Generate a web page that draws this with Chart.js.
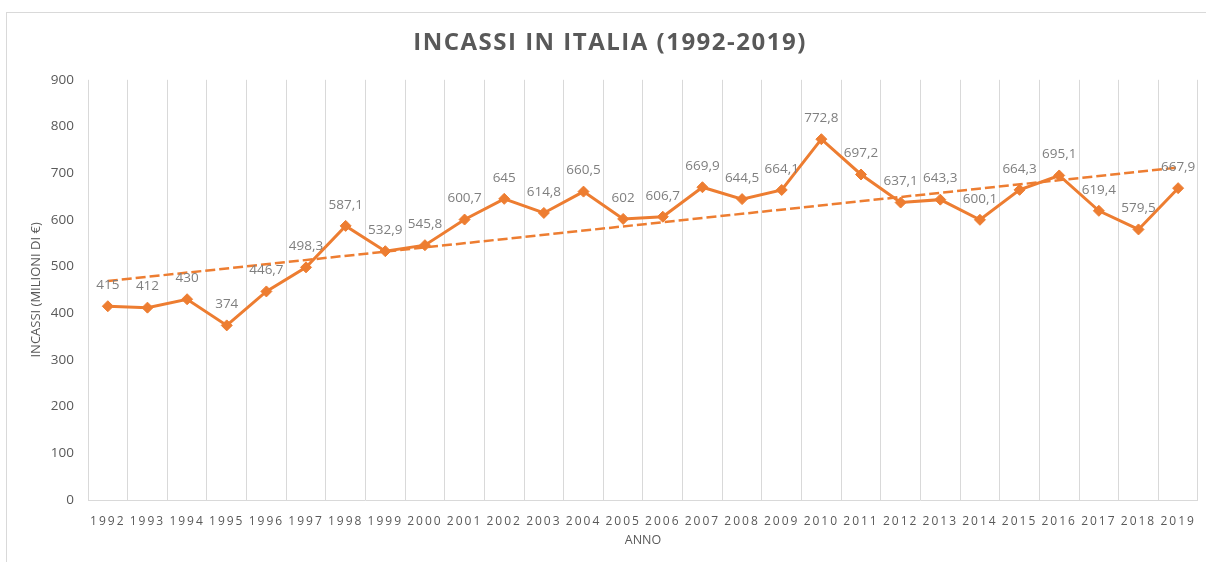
<!DOCTYPE html>
<html lang="it">
<head>
<meta charset="utf-8">
<title>Incassi in Italia (1992-2019)</title>
<script src="https://cdn.jsdelivr.net/npm/chart.js@4.4.1/dist/chart.umd.min.js"></script>
<style>
    html, body { margin: 0; padding: 0; background: #fff; }
    #chart { display: block; }
</style>
</head>
<body>
<canvas id="chart" width="1206" height="562"></canvas>
<script>
// Box office takings in Italy, millions of euro
const years = ['1992', '1993', '1994', '1995', '1996', '1997', '1998', '1999', '2000', '2001',
    '2002', '2003', '2004', '2005', '2006', '2007', '2008', '2009', '2010', '2011',
    '2012', '2013', '2014', '2015', '2016', '2017', '2018', '2019'];
const incassi = [415, 412, 430, 374, 446.7, 498.3, 587.1, 532.9, 545.8, 600.7,
    645, 614.8, 660.5, 602, 606.7, 669.9, 644.5, 664.1, 772.8, 697.2,
    637.1, 643.3, 600.1, 664.3, 695.1, 619.4, 579.5, 667.9];
// Linear trend, first and last year
const trendYears = ['1992', '2019'];
const trendValues = [469, 712];

const ORANGE = '#ED7D31';
const TEXT = '#595959';
const LABEL = '#7f7f7f';
const GRID = '#d9d9d9';
const FONT = "'Open Sans', sans-serif";

const fmt = v => String(v).replace('.', ',');

// wrap a draw method so its text gets some tracking
function withSpacing(obj, method, spacing) {
    if (!obj || obj['_spaced_' + method]) return;
    const orig = obj[method];
    obj[method] = function (...args) {
        const c = this.ctx;
        c.save();
        c.letterSpacing = spacing;
        orig.apply(this, args);
        c.restore();
    };
    obj['_spaced_' + method] = true;
}

const framePlugin = {
    id: 'frame',
    beforeDraw(chart) {
        const { ctx } = chart;
        ctx.save();
        ctx.strokeStyle = GRID;
        ctx.lineWidth = 1;
        ctx.strokeRect(6.5, 12.5, 1400, 700);
        ctx.restore();
        withSpacing(chart.scales.x, 'drawLabels', '2px');
        withSpacing(chart.titleBlock, 'draw', '1.5px');
    }
};

const valueLabels = {
    id: 'valueLabels',
    afterDatasetsDraw(chart) {
        const { ctx } = chart;
        const meta = chart.getDatasetMeta(0);
        ctx.save();
        ctx.font = `13.5px ${FONT}`;
        ctx.fillStyle = LABEL;
        ctx.textAlign = 'center';
        ctx.textBaseline = 'middle';
        meta.data.forEach((pt, i) => {
            ctx.fillText(fmt(incassi[i]), pt.x, pt.y - 21);
        });
        ctx.restore();
    }
};

new Chart(document.getElementById('chart'), {
    type: 'line',
    data: {
        labels: years,
        datasets: [{
            data: incassi,
            borderColor: ORANGE,
            backgroundColor: ORANGE,
            borderWidth: 3,
            pointStyle: 'rectRot',
            pointRadius: 5.5,
            pointBorderWidth: 1,
            tension: 0
        }, {
            data: trendYears.map((x, i) => ({ x, y: trendValues[i] })),
            borderColor: ORANGE,
            borderWidth: 2.5,
            borderDash: [10, 4],
            pointRadius: 0,
            tension: 0
        }]
    },
    options: {
        responsive: false,
        animation: false,
        layout: { padding: { left: 22, right: 8, top: 0, bottom: 0 } },
        plugins: {
            legend: { display: false },
            tooltip: { enabled: false },
            title: {
                display: true,
                text: 'INCASSI IN ITALIA (1992-2019)',
                color: TEXT,
                font: { family: FONT, size: 24, weight: 'bold' },
                padding: { top: 29, bottom: 22 }
            }
        },
        scales: {
            x: {
                offset: true,
                grid: { color: GRID, offset: true, drawTicks: false },
                border: { color: GRID },
                ticks: {
                    color: TEXT,
                    padding: 14,
                    maxRotation: 0,
                    autoSkip: false,
                    font: { family: FONT, size: 12 }
                },
                title: {
                    display: true,
                    text: 'ANNO',
                    color: TEXT,
                    font: { family: FONT, size: 12.5 },
                    padding: { top: 0, bottom: 14 }
                },
                afterFit(s) { s.height = 62; }
            },
            y: {
                min: 0,
                max: 900,
                grid: { display: false, drawTicks: false },
                border: { display: false },
                ticks: {
                    stepSize: 100,
                    color: TEXT,
                    padding: 14,
                    font: { family: FONT, size: 13.5 }
                },
                title: {
                    display: true,
                    text: 'INCASSI (MILIONI DI €)',
                    color: TEXT,
                    font: { family: FONT, size: 13 },
                    padding: { top: 6, bottom: 0 }
                },
                afterFit(s) { s.width = 66; }
            }
        }
    },
    plugins: [framePlugin, valueLabels]
});
</script>
</body>
</html>
